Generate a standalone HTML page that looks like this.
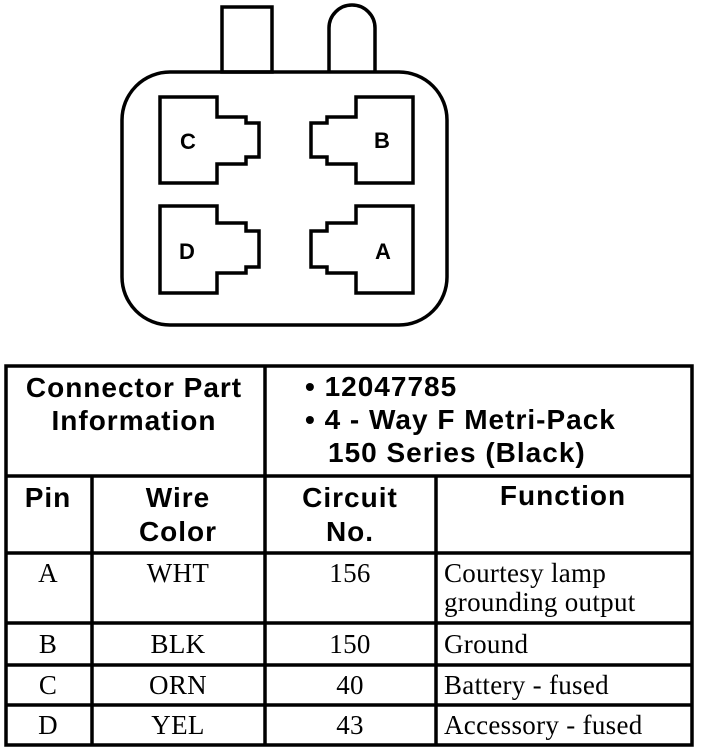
<!DOCTYPE html>
<html><head><meta charset="utf-8"><style>
html,body{margin:0;padding:0;background:#fff;}
svg{display:block;}
.h{font-family:"Liberation Sans",sans-serif;font-weight:bold;font-size:28px;letter-spacing:1px;}
.s{font-family:"Liberation Serif",serif;font-size:27px;letter-spacing:0.3px;}
</style></head><body>
<svg width="704" height="756" viewBox="0 0 704 756" xmlns="http://www.w3.org/2000/svg">
<g fill="none" stroke="#000" stroke-width="3.5" stroke-linejoin="miter">
<rect x="222" y="7" width="50" height="65"/>
<path d="M329 72 V28 A23 23 0 0 1 375 28 V72"/>
<rect x="122" y="72" width="325" height="253" rx="48" ry="48"/>
<path d="M160 97 H217 V117 H246 V123 H259 V157 H246 V164 H217 V183 H160 Z"/>
<path d="M160 206 H217 V223 H246 V231 H259 V267 H246 V273 H217 V293 H160 Z"/>
<path d="M413 97 H356 V117 H327 V123 H311 V157 H327 V164 H356 V183 H413 Z"/>
<path d="M413 206 H356 V223 H327 V231 H311 V267 H327 V273 H356 V293 H413 Z"/>
</g>
<g font-family="Liberation Sans,sans-serif" font-weight="bold" font-size="22" text-anchor="middle">
<text x="188" y="149">C</text>
<text x="382" y="148">B</text>
<text x="187" y="259">D</text>
<text x="383" y="259">A</text>
</g>
<g stroke="#000" stroke-width="3.5" fill="none">
<rect x="6" y="366" width="686" height="379"/>
<line x1="6" y1="476" x2="692" y2="476"/>
<line x1="6" y1="553" x2="692" y2="553"/>
<line x1="6" y1="623" x2="692" y2="623"/>
<line x1="6" y1="665" x2="692" y2="665"/>
<line x1="6" y1="705" x2="692" y2="705"/>
<line x1="265" y1="366" x2="265" y2="745"/>
<line x1="92" y1="476" x2="92" y2="745"/>
<line x1="436" y1="476" x2="436" y2="745"/>
</g>
<g class="h">
<text x="134" y="397" text-anchor="middle">Connector Part</text>
<text x="134" y="430" text-anchor="middle">Information</text>
<text x="305" y="396">• 12047785</text>
<text x="305" y="429">• 4 - Way F Metri-Pack</text>
<text x="328" y="462">150 Series (Black)</text>
<text x="48" y="507" text-anchor="middle">Pin</text>
<text x="178" y="507" text-anchor="middle">Wire</text>
<text x="178" y="541" text-anchor="middle">Color</text>
<text x="350" y="507" text-anchor="middle">Circuit</text>
<text x="350" y="541" text-anchor="middle">No.</text>
<text x="563" y="505" text-anchor="middle">Function</text>
</g>
<g class="s">
<g text-anchor="middle">
<text x="48" y="582">A</text><text x="178" y="582">WHT</text><text x="350" y="582">156</text>
<text x="48" y="653">B</text><text x="178" y="653">BLK</text><text x="350" y="653">150</text>
<text x="48" y="694">C</text><text x="178" y="694">ORN</text><text x="350" y="694">40</text>
<text x="48" y="734">D</text><text x="178" y="734">YEL</text><text x="350" y="734">43</text>
</g>
<text x="444" y="582">Courtesy lamp</text>
<text x="444" y="611">grounding output</text>
<text x="444" y="653">Ground</text>
<text x="444" y="694">Battery - fused</text>
<text x="444" y="734">Accessory - fused</text>
</g>
</svg>
</body></html>
